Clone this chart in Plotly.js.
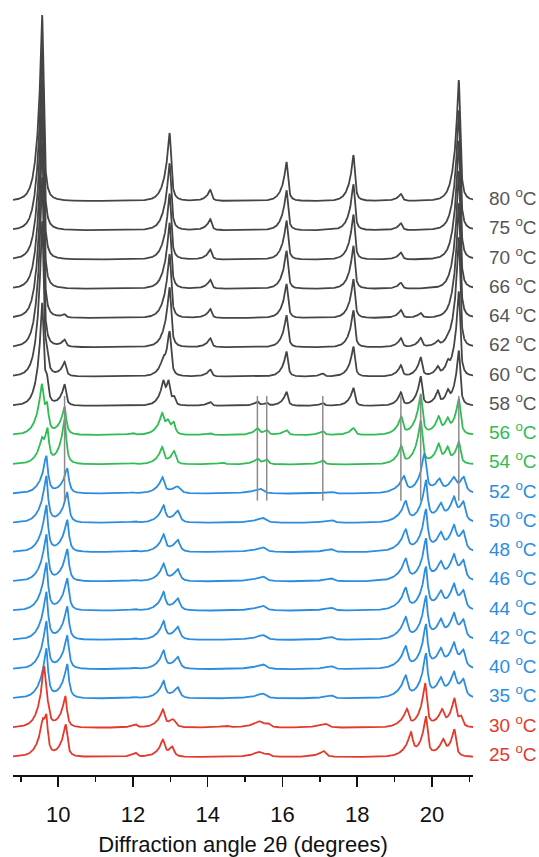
<!DOCTYPE html>
<html><head><meta charset="utf-8">
<script src="https://cdn.plot.ly/plotly-3.0.1.min.js"></script>
<style>html,body{margin:0;padding:0;background:#fff}#chart{width:539px;height:857px}</style>
</head><body><div id="chart"></div>
<script>
// Temperatures (top to bottom) and label colours group
const temperatures = ['80','75','70','66','64','62','60','58','56','54','52','50','48','46','44','42','40','35','30','25'];
const phaseGroup   = ['g','g','g','g','g','g','g','g','n','n','b','b','b','b','b','b','b','b','r','r'];

// Peaks: [2theta (deg), intensity (a.u.), optional half width (deg)]
const peaks80 = [[9.57,186],[12.98,68,0.055],[14.07,11],[16.11,39,0.05],[17.90,46,0.05],[19.17,7],[20.72,121]];
const peaks75 = [[9.57,183],[12.98,67,0.055],[14.07,11],[16.11,40,0.05],[17.90,46,0.05],[19.17,7],[20.72,120]];
const peaks70 = [[9.57,180],[12.98,66,0.055],[14.07,10],[16.11,39,0.05],[17.90,45,0.05],[19.17,7],[20.72,119]];
const peaks66 = [[9.57,178],[12.98,66,0.055],[14.07,9],[16.11,38,0.05],[17.90,43,0.05],[19.17,6],[20.72,118]];
const peaks64 = [[9.57,175],[10.17,3],[12.98,64,0.055],[14.07,9],[16.11,34,0.05],[17.90,39,0.05],[19.17,8],[19.70,5],[20.72,115]];
const peaks62 = [[9.57,170],[10.17,7],[12.98,60,0.055],[14.07,9],[16.11,32,0.05],[17.90,37,0.05],[19.17,9],[19.70,9],[20.16,5],[20.43,3],[20.72,110]];
const peaks60 = [[9.57,150],[9.70,15],[10.17,14],[12.81,8],[12.98,45,0.055],[14.07,7],[16.11,25,0.05],[17.08,3],[17.90,30,0.05],[19.17,11],[19.70,19],[20.16,8],[20.43,9],[20.72,85]];
const peaks58 = [[9.57,95],[9.70,22],[10.17,21],[12.81,18],[12.95,22],[13.10,8],[14.07,4],[15.33,4],[15.58,3],[16.11,14],[17.08,3],[17.90,18],[19.17,13],[19.70,29],[20.16,13],[20.43,11],[20.72,55]];
const peaks56 = [[9.56,40],[9.70,27],[10.17,28],[12.00,2],[12.78,17],[12.93,10],[13.09,12],[14.07,2],[15.33,6],[15.58,5],[16.11,5],[17.08,4],[17.90,7],[19.18,17],[19.70,40],[20.18,15],[20.42,12],[20.72,36]];
const peaks54 = [[9.56,14],[9.71,33],[10.17,45],[12.00,1],[12.78,16],[13.10,13],[14.40,2],[15.33,5],[15.58,5],[17.08,4],[19.18,17],[19.70,43],[20.18,17],[20.42,14],[20.72,22]];
const peaks52 = [[9.68,37],[10.24,25],[12.00,1],[12.79,15],[13.19,7,0.1],[15.40,5,0.12],[17.30,2,0.1],[19.25,16,0.08],[19.80,38],[20.20,12,0.08],[20.58,12,0.08],[20.85,16,0.08]];
const peaks50 = [[9.68,46],[10.24,30],[12.06,1.5],[12.82,16],[13.20,12,0.08],[15.47,5,0.12],[17.30,3,0.1],[19.30,20,0.08],[19.84,40],[20.24,15,0.08],[20.59,20,0.08],[20.84,20,0.08]];
const peaks48 = [[9.68,46],[10.24,32],[12.06,1.5],[12.82,16],[13.20,12,0.08],[15.47,5,0.12],[17.30,3,0.1],[19.30,21,0.08],[19.84,40],[20.24,15,0.08],[20.59,21,0.08],[20.84,20,0.08]];
const peaks46 = [[9.68,46],[10.24,32],[12.06,1.5],[12.82,16],[13.20,12,0.08],[15.47,5,0.12],[17.30,3,0.1],[19.30,21,0.08],[19.84,40],[20.24,15,0.08],[20.59,21,0.08],[20.84,20,0.08]];
const peaks44 = [[9.68,47],[10.24,32],[12.06,1.5],[12.82,17],[13.20,12,0.08],[15.47,5,0.12],[17.30,3,0.1],[19.30,21,0.08],[19.84,41],[20.24,15,0.08],[20.59,21,0.08],[20.84,19,0.08]];
const peaks42 = [[9.68,47],[10.24,33],[12.06,1.5],[12.82,17],[13.20,13,0.08],[15.47,5,0.12],[17.30,3,0.1],[19.30,21,0.08],[19.84,41],[20.24,16,0.08],[20.59,21,0.08],[20.84,19,0.08]];
const peaks40 = [[9.68,47],[10.24,33],[12.06,1.5],[12.82,17],[13.20,12,0.08],[15.47,5,0.12],[17.30,3,0.1],[19.30,21,0.08],[19.84,42],[20.24,16,0.08],[20.59,21,0.08],[20.84,18,0.08]];
const peaks35 = [[9.68,49],[10.24,34],[12.06,1.5],[12.82,16],[13.20,11,0.08],[15.47,5,0.12],[17.30,3,0.1],[19.30,21,0.08],[19.84,42],[20.24,16,0.08],[20.59,21,0.08],[20.84,18,0.08]];
const peaks30 = [[9.62,53],[9.72,15],[10.19,31],[12.07,3],[12.80,16],[13.07,8,0.09],[14.50,2,0.1],[15.37,5,0.1],[15.60,4,0.1],[17.15,4,0.1],[19.33,17,0.07],[19.82,43],[20.27,15,0.07],[20.60,26],[20.78,10]];
const peaks25 = [[9.58,18],[9.68,38],[10.20,32],[12.07,4],[12.80,15],[13.05,10,0.07],[15.37,4,0.1],[15.60,3,0.1],[17.10,6,0.08],[19.44,22,0.07],[19.84,39],[20.30,14,0.07],[20.60,27]];

const patterns = [peaks80,peaks75,peaks70,peaks66,peaks64,peaks62,peaks60,peaks58,peaks56,peaks54,
                  peaks52,peaks50,peaks48,peaks46,peaks44,peaks42,peaks40,peaks35,peaks30,peaks25];

// Reflections marked across the transition region
const markedReflections = [10.17, 15.33, 15.58, 17.08, 19.17, 19.70, 20.72];
const tickValues = [10,12,14,16,18,20];

// ---- presentation ----
const colors = {g:'#454545', n:'#2dbd52', b:'#2b8ddf', r:'#e4382a'};
const labelColors = {g:'#555555', n:'#2dbd52', b:'#2b8ddf', r:'#e4382a'};
const defaultWidth = {g:0.05, n:0.06, b:0.065, r:0.06};
const spacing = 29.26;
const nCurves = temperatures.length;
const offsetOf = i => (nCurves-1-i)*spacing;

function profile(x, peaks, w0){
  let s = 0;
  for (const p of peaks){
    const d = x - p[0], w = p[2] || w0, h = p[1];
    if (d < 0){
      const a = d/w, b = d/(5*w);
      s += h*(0.55/(1+a*a) + 0.45/Math.pow(1+b*b,2));
    } else {
      const a = d/(0.85*w);
      s += h/(1+a*a);
    }
  }
  return s;
}

const xs = [];
for (let x = 8.79; x <= 21.16; x += 0.004) xs.push(+x.toFixed(4));

const traces = [];
const annotations = [];
patterns.forEach((pk, i) => {
  const g = phaseGroup[i];
  const off = offsetOf(i);
  traces.push({
    x: xs, y: xs.map(x => off + profile(x, pk, defaultWidth[g])),
    type:'scatter', mode:'lines', hoverinfo:'skip',
    line:{color:colors[g], width:1.8}
  });
  annotations.push({
    xref:'paper', yref:'y', x:1.03, y:off+4, xanchor:'left', yanchor:'middle',
    text: temperatures[i] + ' <sup>o</sup>C', showarrow:false,
    font:{family:'Liberation Sans, Arial, sans-serif', size:19, color:labelColors[g]}
  });
});

const i58 = temperatures.indexOf('58'), i52 = temperatures.indexOf('52');
const shapes = markedReflections.map(v => ({
  type:'line', xref:'x', yref:'y', x0:v, x1:v,
  y0: offsetOf(i52)-7, y1: offsetOf(i58)+10,
  line:{color:'#8c8c8c', width:1.5}, layer:'above'
}));

const layout = {
  width:539, height:857, margin:{l:13, r:66, t:0, b:82},
  paper_bgcolor:'#fff', plot_bgcolor:'#fff', showlegend:false,
  font:{family:'Liberation Sans, Arial, sans-serif', color:'#111'},
  xaxis:{
    range:[8.79, 21.1], showgrid:false, zeroline:false,
    showline:true, linecolor:'#111', linewidth:1.5,
    ticks:'outside', ticklen:10, tickwidth:1.5, tickcolor:'#111',
    ticklabelstandoff:9,
    tickvals:tickValues, ticktext:tickValues.map(String),
    tickfont:{size:22, color:'#111'},
    minor:{dtick:1, tick0:9, ticks:'outside', ticklen:5, tickwidth:1.5, tickcolor:'#111', showgrid:false},
    title:{text:'Diffraction angle 2θ (degrees)', font:{size:22, color:'#111'}, standoff:14}
  },
  yaxis:{range:[-18, 757], visible:false, fixedrange:true},
  annotations, shapes
};

Plotly.newPlot('chart', traces, layout, {staticPlot:true, displayModeBar:false});
</script></body></html>
